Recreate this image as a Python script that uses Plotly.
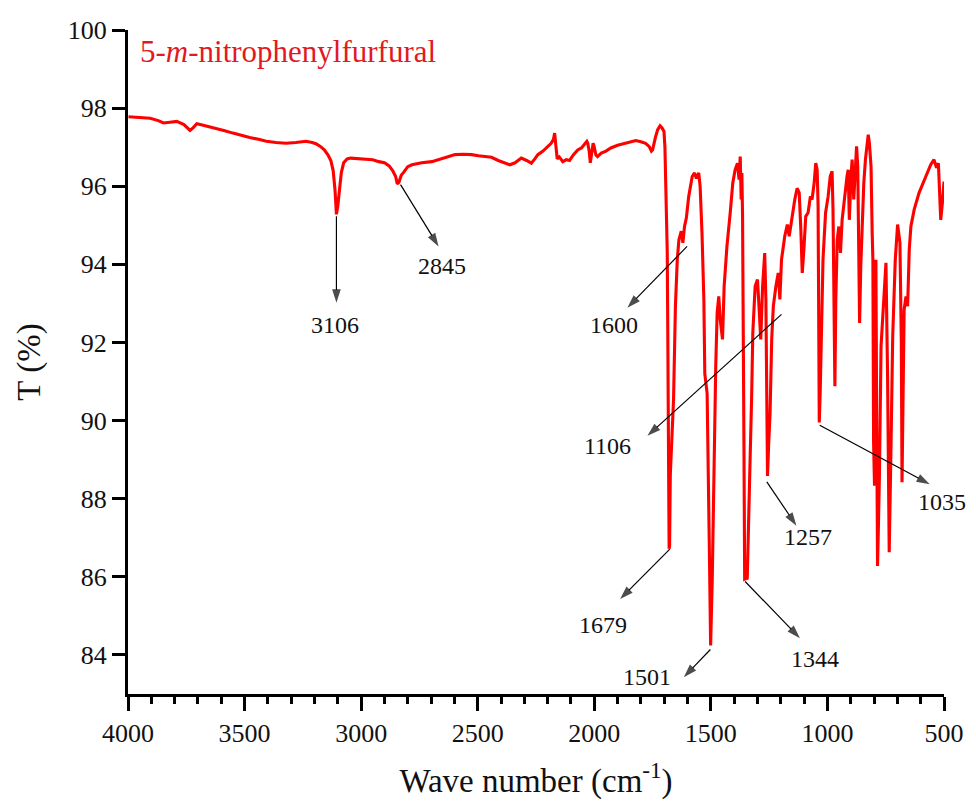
import plotly.graph_objects as go

# FT-IR spectrum of 5-m-nitrophenylfurfural: wavenumber (cm-1) vs transmittance (%)
wavenumber = [
    3998, 3950, 3905, 3870, 3848, 3820, 3791, 3760, 3745, 3734, 3720, 3705, 3690, 3650,
    3620, 3585, 3550, 3515, 3478, 3440, 3407, 3365, 3322, 3280, 3237, 3210, 3194, 3175,
    3158, 3142, 3130, 3120, 3112, 3106, 3100, 3093, 3085, 3075, 3060, 3045, 3010, 2981,
    2950, 2924, 2900, 2880, 2865, 2852, 2845, 2838, 2828, 2817, 2800, 2782, 2740, 2697,
    2650, 2597, 2560, 2526, 2497, 2460, 2441, 2412, 2380, 2362, 2340, 2313, 2290, 2270,
    2255, 2242, 2220, 2200, 2185, 2175, 2170, 2165, 2162, 2159, 2150, 2135, 2120, 2106,
    2090, 2071, 2055, 2042, 2032, 2028, 2022, 2017, 2010, 2005, 2000, 1993, 1986, 1970,
    1950, 1929, 1900, 1872, 1840, 1822, 1800, 1780, 1765, 1755, 1750, 1745, 1737, 1728,
    1718, 1710, 1701, 1697, 1694, 1690, 1687, 1685, 1683, 1681, 1679, 1677, 1674, 1670,
    1665, 1660, 1652, 1644, 1637, 1627, 1620, 1613, 1605, 1595, 1580, 1570, 1562, 1552,
    1546, 1538, 1530, 1526, 1516, 1513, 1506, 1501, 1494, 1487, 1483, 1479, 1473, 1466,
    1460, 1450, 1443, 1431, 1417, 1406, 1396, 1386, 1379, 1374, 1370, 1367, 1364, 1363,
    1360, 1358, 1355, 1348, 1344, 1339, 1332, 1325, 1320, 1310, 1300, 1292, 1286, 1278,
    1269, 1264, 1260, 1257, 1252, 1246, 1239, 1232, 1221, 1211, 1204, 1197, 1183, 1172,
    1164, 1154, 1140, 1130, 1121, 1114, 1108, 1101, 1093, 1083, 1073, 1066, 1057, 1050,
    1044, 1040, 1038, 1035, 1031, 1025, 1019, 1008, 997, 988, 980, 976, 972, 968,
    964, 958, 951, 944, 937, 927, 916, 911, 906, 899, 894, 887, 881, 875,
    870, 866, 862, 857, 851, 844, 837, 831, 825, 820, 813, 808, 805, 802,
    798, 794, 792, 789, 785, 781, 777, 770, 760, 749, 742, 735, 727, 720,
    709, 699, 689, 683, 680, 676, 671, 663, 656, 649, 642, 628, 607, 578,
    557, 543, 532, 524, 518, 514, 507, 500,
]
transmittance = [
    97.78, 97.76, 97.74, 97.68, 97.62, 97.64, 97.66, 97.58, 97.50, 97.43, 97.50, 97.60, 97.58, 97.52,
    97.49, 97.42, 97.36, 97.30, 97.25, 97.20, 97.15, 97.12, 97.10, 97.12, 97.15, 97.12, 97.09, 97.02,
    96.93, 96.80, 96.66, 96.40, 95.90, 95.28, 95.50, 95.90, 96.35, 96.60, 96.70, 96.72, 96.70, 96.70,
    96.68, 96.63, 96.60, 96.52, 96.40, 96.25, 96.06, 96.10, 96.28, 96.36, 96.50, 96.55, 96.60, 96.63,
    96.72, 96.81, 96.82, 96.81, 96.78, 96.76, 96.74, 96.66, 96.58, 96.55, 96.60, 96.72, 96.66, 96.59,
    96.70, 96.81, 96.90, 97.02, 97.10, 97.20, 97.36, 97.05, 96.80, 96.70, 96.75, 96.63, 96.68, 96.66,
    96.80, 96.93, 96.98, 97.06, 97.15, 97.10, 96.90, 96.60, 96.85, 97.10, 97.00, 96.80, 96.76, 96.85,
    96.90, 96.98, 97.05, 97.10, 97.15, 97.17, 97.14, 97.10, 97.02, 96.90, 96.93, 97.10, 97.27, 97.45,
    97.55, 97.50, 97.40, 97.00, 96.30, 95.20, 94.30, 92.50, 91.00, 88.50, 86.72, 86.80, 88.60, 89.20,
    89.60, 90.54, 92.93, 94.12, 94.63, 94.85, 94.55, 94.97, 95.19, 95.74, 96.25, 96.34, 96.20, 96.34,
    96.00, 94.80, 93.10, 91.20, 90.70, 88.84, 86.50, 84.24, 85.94, 88.50, 90.29, 91.40, 92.76, 93.18,
    92.60, 92.08, 93.44, 94.46, 95.32, 96.08, 96.42, 96.59, 96.17, 96.76, 95.66, 96.34, 95.23, 93.10,
    90.70, 89.35, 85.94, 85.96, 85.94, 87.65, 88.93, 90.63, 92.25, 93.44, 93.61, 92.76, 92.08, 93.44,
    94.29, 93.10, 90.97, 88.58, 89.40, 90.20, 92.08, 92.93, 93.44, 93.78, 93.10, 94.12, 94.72, 95.02,
    94.72, 95.14, 95.66, 95.95, 95.83, 94.89, 93.78, 94.38, 95.23, 95.32, 95.74, 95.66, 96.08, 96.59,
    96.42, 95.49, 92.67, 89.95, 90.72, 92.25, 94.12, 95.32, 95.74, 96.25, 96.38, 95.40, 93.10, 90.88,
    93.10, 94.63, 94.97, 94.29, 95.14, 95.74, 96.25, 96.42, 95.14, 96.25, 96.68, 95.66, 96.51, 97.02,
    96.51, 94.38, 92.50, 93.95, 95.23, 96.08, 96.68, 97.10, 97.32, 97.10, 96.51, 94.80, 94.12, 89.44,
    88.33, 91.99, 94.12, 90.29, 86.28, 87.40, 88.58, 91.91, 92.84, 94.04, 91.14, 86.63, 89.44, 92.16,
    94.12, 95.02, 94.55, 91.99, 88.42, 90.29, 92.84, 93.18, 92.93, 94.38, 94.97, 95.40, 95.83, 96.25,
    96.55, 96.68, 96.47, 96.59, 95.83, 95.14, 95.57, 96.12,
]

# Band labels: text, arrow tail (on the band), arrow head, label centre
band_labels = ["3106", "2845", "1600", "1106", "1679", "1501", "1344", "1257", "1035"]
tail_wn = [3106, 2831, 1602, 1197, 1676, 1502, 1353, 1260, 1033]
tail_t = [95.23, 96.04, 94.46, 92.72, 86.71, 84.14, 85.88, 88.43, 89.88]
head_wn = [3106, 2668, 1858, 1772, 1889, 1616, 1118, 1133, 561]
head_t = [93.02, 94.46, 92.89, 89.61, 85.43, 83.43, 84.43, 87.31, 88.37]
label_wn = [3112, 2655, 1914, 1943, 1964, 1772, 1054, 1083, 507]
label_t = [92.45, 93.95, 92.46, 89.35, 84.77, 83.43, 83.90, 87.01, 87.92]

x_ticks = [4000, 3500, 3000, 2500, 2000, 1500, 1000, 500]
y_ticks = [84, 86, 88, 90, 92, 94, 96, 98, 100]

SERIF = "Liberation Serif, Times New Roman, serif"
INK = "#000000"

fig = go.Figure()
fig.add_trace(go.Scatter(
    x=wavenumber, y=transmittance, mode="lines",
    line=dict(color="#ff0000", width=3.1),
    showlegend=False, hoverinfo="x+y",
))

# Thin leader arrows from each band to its label (arrowhead drawn as a marker
# oriented along the segment)
for tx, ty, hx, hy in zip(tail_wn, tail_t, head_wn, head_t):
    fig.add_trace(go.Scatter(
        x=[tx, hx], y=[ty, hy], mode="lines+markers",
        line=dict(color=INK, width=1.2),
        marker=dict(symbol="arrow", size=[0, 14], color=INK, angleref="previous",
                    line=dict(width=0)),
        showlegend=False, hoverinfo="skip", cliponaxis=False,
    ))

annotations = []
for txt, lx, ly in zip(band_labels, label_wn, label_t):
    annotations.append(dict(
        x=lx, y=ly, xref="x", yref="y", text=txt, showarrow=False,
        xanchor="center", yanchor="middle",
        font=dict(family=SERIF, size=24, color="#111111"),
    ))

annotations.append(dict(
    x=0.012, y=0.968, xref="paper", yref="paper", xanchor="left", yanchor="middle",
    text="5-<i>m</i>-nitrophenylfurfural", showarrow=False,
    font=dict(family=SERIF, size=31, color="#e3191f"),
))

fig.update_layout(
    width=976, height=805,
    margin=dict(l=128, r=28, t=30, b=111),
    paper_bgcolor="white", plot_bgcolor="white",
    font=dict(family=SERIF, color="#111111"),
    annotations=annotations,
)

fig.update_xaxes(
    range=[4000, 500], tickvals=x_ticks, ticktext=[str(v) for v in x_ticks],
    showgrid=False, zeroline=False, showline=True, linecolor=INK, linewidth=3,
    ticks="outside", ticklen=14, tickwidth=2.5, tickcolor=INK,
    minor=dict(dtick=100, tick0=0, ticks="outside", ticklen=7, tickwidth=2.5, tickcolor=INK),
    tickfont=dict(family=SERIF, size=26, color="#111111"),
    title=dict(text="Wave number (cm<sup>-1</sup>)", font=dict(family=SERIF, size=33, color="#111111"), standoff=22),
)
fig.update_yaxes(
    range=[83, 100], tickvals=y_ticks, ticktext=[str(v) for v in y_ticks],
    showgrid=False, zeroline=False, showline=True, linecolor=INK, linewidth=3,
    ticks="outside", ticklen=13, tickwidth=2.5, tickcolor=INK,
    tickfont=dict(family=SERIF, size=26, color="#111111"),
    title=dict(text="T (%)", font=dict(family=SERIF, size=33, color="#111111"), standoff=18),
)

fig.write_html("out.html")
